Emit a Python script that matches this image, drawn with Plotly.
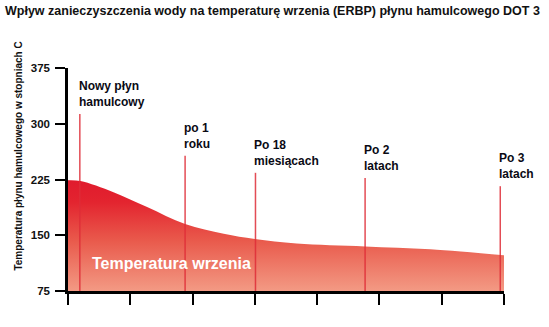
import plotly.graph_objects as go

# Boiling-point curve (°C) over time of use
curve_x = [0.0, 0.2, 0.73, 1.27, 1.88, 2.5, 3.0, 3.67, 4.77, 5.82, 7.0]
curve_y = [224, 223, 208, 188, 165, 152, 145, 139, 135, 131, 123]

# Time markers: position, height of the marker line, caption
marker_x = [0.19, 1.88, 3.01, 4.77, 6.94]
marker_top = [313, 257, 234, 227, 216]
marker_labels = ["Nowy płyn<br>hamulcowy", "po 1<br>roku", "Po 18<br>miesiącach",
                 "Po 2<br>latach", "Po 3<br>latach"]

y_ticks = [75, 150, 225, 300, 375]
x_ticks = [0, 1, 2, 3, 4, 5, 6, 7]

FONT = "Liberation Sans Narrow, Arial Narrow, Liberation Sans, Arial, sans-serif"

fig = go.Figure()

# Red area under the boiling-point curve, shaded from salmon to deep red
fig.add_trace(go.Scatter(
    x=curve_x, y=curve_y, mode="lines",
    line=dict(width=0, shape="spline", smoothing=1.0),
    fill="tozeroy",
    fillgradient=dict(
        type="vertical", start=75, stop=225,
        colorscale=[[0.0, "#f39a84"], [0.45, "#e95a4c"], [0.8, "#e3242f"], [1.0, "#e01a2d"]],
    ),
    hoverinfo="skip", showlegend=False,
))

# Thin vertical marker lines
vx, vy = [], []
for x, top in zip(marker_x, marker_top):
    vx += [x, x, None]
    vy += [75, top, None]
fig.add_trace(go.Scatter(
    x=vx, y=vy, mode="lines",
    line=dict(color="rgba(222,45,55,0.85)", width=1.5),
    hoverinfo="skip", showlegend=False,
))

annotations = []
for x, top, text in zip(marker_x, marker_top, marker_labels):
    annotations.append(dict(
        x=x, y=top, xref="x", yref="y", text=text, showarrow=False,
        xanchor="left", yanchor="bottom", align="left", xshift=-3, yshift=3,
        font=dict(family=FONT, size=12, color="#0a0a14", weight="bold"),
    ))

annotations.append(dict(
    x=0.35, y=112, xref="x", yref="y", text="Temperatura wrzenia", showarrow=False,
    xanchor="left", yanchor="middle",
    font=dict(family=FONT, size=16, color="white", weight="bold"),
))

annotations.append(dict(
    x=-0.148, y=1.255, xref="paper", yref="paper",
    text="Wpływ zanieczyszczenia wody na temperaturę wrzenia (ERBP) płynu hamulcowego DOT 3",
    showarrow=False, xanchor="left", yanchor="middle",
    font=dict(family=FONT, size=12.5, color="#111", weight="bold"),
))

annotations.append(dict(
    x=-0.114, y=0.604, xref="paper", yref="paper",
    text="Temperatura płynu hamulcowego w stopniach C", textangle=-90,
    showarrow=False, xanchor="center", yanchor="middle",
    font=dict(family=FONT, size=10, color="#111", weight="bold"),
))

fig.update_layout(
    width=549, height=327,
    margin=dict(l=68, r=45, t=68, b=36),
    paper_bgcolor="white", plot_bgcolor="white",
    annotations=annotations,
    xaxis=dict(
        range=[0, 7], tickvals=x_ticks, showticklabels=False,
        ticks="outside", ticklen=11, tickwidth=2, tickcolor="black",
        showline=True, linewidth=2.5, linecolor="black",
        showgrid=False, zeroline=False, fixedrange=True,
    ),
    yaxis=dict(
        range=[75, 375], tickvals=y_ticks,
        ticks="outside", ticklen=10, tickwidth=2, tickcolor="black",
        ticklabelstandoff=3,
        tickfont=dict(family=FONT, size=11.5, color="#111", weight="bold"),
        showline=True, linewidth=2.5, linecolor="black",
        showgrid=False, zeroline=False, fixedrange=True,
    ),
)

fig.write_html("out.html")
